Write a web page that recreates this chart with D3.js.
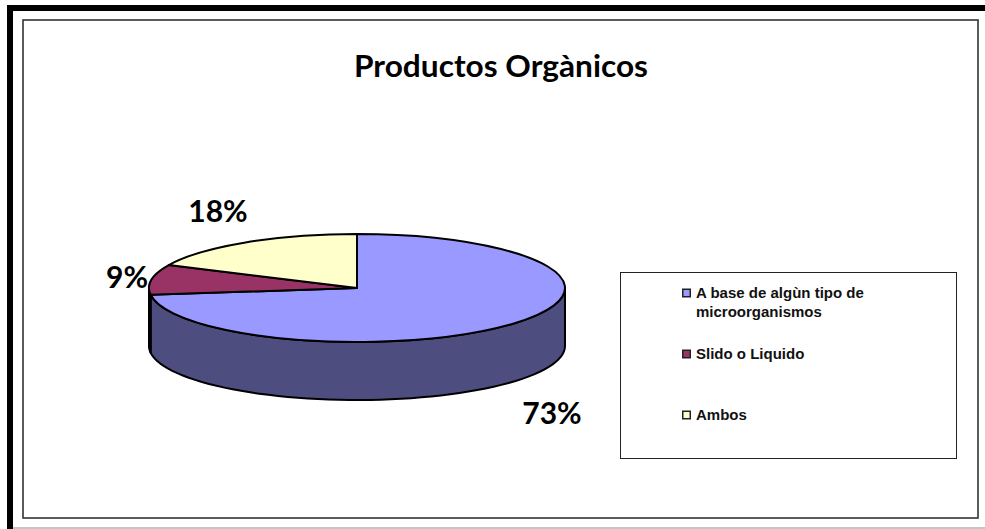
<!DOCTYPE html>
<html>
<head>
<meta charset="utf-8">
<script src="https://cdn.jsdelivr.net/npm/d3@7"></script>
<style>
  html, body { margin: 0; padding: 0; background: #fff; }
  svg { display: block; }
</style>
</head>
<body>
<div id="root"></div>
<script>
// Data
const categories = ['A base de algùn tipo de|microorganismos', 'Slido o Liquido', 'Ambos'];
const values = [73, 9, 18];
const labels = ['73%', '9%', '18%'];
const colors = ['#9999ff', '#993366', '#ffffcc'];
const sideColors = ['#4d4d80', '#4d1a33', '#808066'];
const titleText = 'Productos Orgànicos';

const w = 985, h = 529;
const cx = 357, cy = 288, rx = 208, ry = 54, depth = 58;
const comic = 'Lato, "DejaVu Sans", sans-serif';

const svg = d3.select('#root').append('svg').attr('width', w).attr('height', h);

// Outer frame
svg.append('rect').attr('x', 0).attr('y', 0).attr('width', w).attr('height', h).attr('fill', '#fff');
svg.append('rect').attr('x', 7).attr('y', 5).attr('width', 978).attr('height', 6).attr('fill', '#000');
svg.append('rect').attr('x', 7).attr('y', 5).attr('width', 6).attr('height', 524).attr('fill', '#000');
svg.append('rect').attr('x', 13).attr('y', 527).attr('width', 972).attr('height', 2).attr('fill', '#c4c4c4');

// Chart area
svg.append('rect').attr('x', 23).attr('y', 20).attr('width', 955).attr('height', 498)
    .attr('fill', '#fff').attr('stroke', '#333').attr('stroke-width', 1.6);

svg.append('text')
    .attr('x', 501).attr('y', 77)
    .attr('text-anchor', 'middle')
    .attr('font-family', comic)
    .attr('font-weight', 'bold')
    .attr('font-size', 31)
    .attr('textLength', 294)
    .attr('lengthAdjust', 'spacingAndGlyphs')
    .text(titleText);

// Pie, tilted: angle 0 is 12 o'clock, going clockwise
const pie = d3.pie().sort(null).value(d => d);
const arcs = pie(values);

const px = a => cx + rx * Math.sin(a);
const py = a => cy - ry * Math.cos(a);

// walls are only visible on the front half of the disc
const frontStart = Math.PI / 2, frontEnd = Math.PI * 1.5;
const line = d3.line();

arcs.forEach((d, i) => {
    const a0 = Math.max(d.startAngle, frontStart);
    const a1 = Math.min(d.endAngle, frontEnd);
    if (a1 <= a0) return;
    const steps = d3.range(0, 61).map(k => a0 + (a1 - a0) * k / 60);
    const top = steps.map(a => [px(a), py(a)]);
    const bottom = steps.map(a => [px(a), py(a) + depth]).reverse();
    svg.append('path')
        .attr('d', line(top.concat(bottom)) + 'Z')
        .attr('fill', sideColors[i])
        .attr('stroke', '#000')
        .attr('stroke-width', 2)
        .attr('stroke-linejoin', 'round');
});

// Top face, drawn with d3.arc and squashed vertically
const arc = d3.arc().innerRadius(0).outerRadius(rx);
svg.append('g')
    .attr('transform', `translate(${cx},${cy}) scale(1,${ry / rx})`)
    .selectAll('path')
    .data(arcs)
    .enter()
    .append('path')
    .attr('d', arc)
    .attr('fill', (d, i) => colors[i])
    .attr('stroke', '#000')
    .attr('stroke-width', 2)
    .attr('stroke-linejoin', 'round')
    .attr('vector-effect', 'non-scaling-stroke');

// Percent labels
const labelPos = [[552, 424], [127, 288], [218, 222]];
svg.selectAll('text.pct')
    .data(labels)
    .enter()
    .append('text')
    .attr('class', 'pct')
    .attr('x', (d, i) => labelPos[i][0])
    .attr('y', (d, i) => labelPos[i][1])
    .attr('text-anchor', 'middle')
    .attr('font-family', comic)
    .attr('font-weight', 'bold')
    .attr('font-size', 30)
    .text(d => d);

// Legend
svg.append('rect').attr('x', 620.5).attr('y', 272.5).attr('width', 336).attr('height', 186)
    .attr('fill', '#fff').attr('stroke', '#222').attr('stroke-width', 1);

const legendY = d3.scalePoint().domain(categories).range([293, 415]);
const legend = svg.selectAll('g.item')
    .data(categories)
    .enter()
    .append('g')
    .attr('class', 'item')
    .attr('transform', d => `translate(682,${legendY(d)})`);

legend.append('rect')
    .attr('x', 0.75).attr('y', -3.75)
    .attr('width', 7.5).attr('height', 7.5)
    .attr('fill', (d, i) => colors[i])
    .attr('stroke', '#222')
    .attr('stroke-width', 1.5);

legend.each(function(d) {
    const t = d3.select(this).append('text')
        .attr('font-family', '"Liberation Sans", Arial, sans-serif')
        .attr('font-weight', 'bold')
        .attr('font-size', 15)
        .attr('fill', '#111');
    d.split('|').forEach((part, k) => {
        t.append('tspan')
            .attr('x', 14)
            .attr('y', 5 + k * 18.5)
            .text(part);
    });
});
</script>
</body>
</html>
